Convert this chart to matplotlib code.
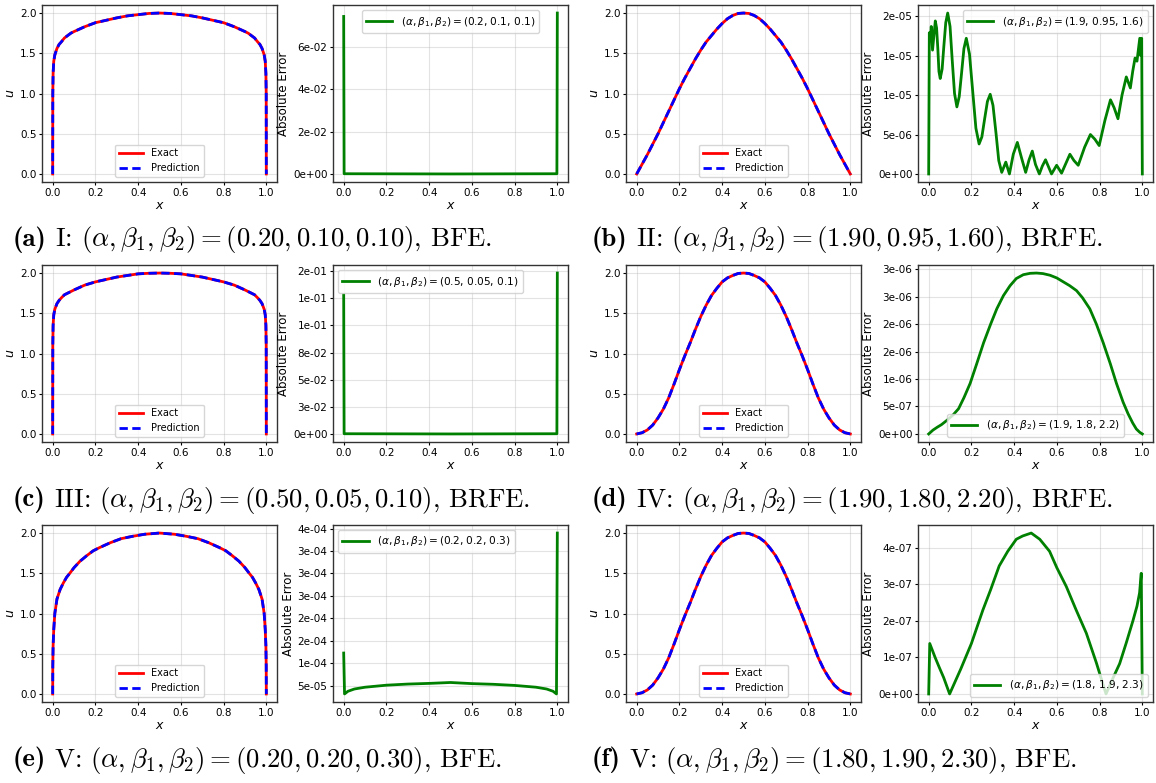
import numpy as np
import matplotlib
matplotlib.use("Agg")
import matplotlib.pyplot as plt

plt.rcParams['mathtext.fontset'] = 'dejavusans'
plt.rcParams['font.size'] = 8

# ---- exact / predicted solution u(x) ----
x_flat = [0, 0.0005, 0.002, 0.005, 0.01, 0.02, 0.03, 0.04, 0.055, 0.07, 0.085, 0.1, 0.125, 0.15,
          0.2, 0.25, 0.3, 0.35, 0.4, 0.45, 0.5,
          0.55, 0.6, 0.65, 0.7, 0.75, 0.8, 0.85, 0.875, 0.9, 0.915, 0.93, 0.945, 0.96, 0.97,
          0.98, 0.99, 0.995, 0.998, 0.9995, 1.0]
u_a = [0, 1.0, 1.25, 1.4, 1.48, 1.56, 1.61, 1.64, 1.69, 1.72, 1.75, 1.77, 1.80, 1.83,
       1.88, 1.91, 1.94, 1.965, 1.98, 1.995, 2.0,
       1.995, 1.98, 1.965, 1.94, 1.91, 1.88, 1.83, 1.80, 1.77, 1.75, 1.72, 1.69, 1.64, 1.61,
       1.56, 1.48, 1.4, 1.25, 1.0, 0]
u_c = [0, 1.1, 1.35, 1.48, 1.55, 1.62, 1.66, 1.69, 1.73, 1.75, 1.77, 1.79, 1.82, 1.85,
       1.89, 1.92, 1.95, 1.97, 1.99, 1.997, 2.0,
       1.997, 1.99, 1.97, 1.95, 1.92, 1.89, 1.85, 1.82, 1.79, 1.77, 1.75, 1.73, 1.69, 1.66,
       1.62, 1.55, 1.48, 1.35, 1.1, 0]
x_e = [0, 0.0005, 0.002, 0.005, 0.01, 0.02, 0.035, 0.05, 0.065, 0.08, 0.1, 0.128, 0.16, 0.19,
       0.22, 0.27, 0.32, 0.375, 0.43, 0.5,
       0.57, 0.625, 0.68, 0.73, 0.78, 0.81, 0.84, 0.872, 0.9, 0.92, 0.935, 0.95, 0.965, 0.98,
       0.99, 0.995, 0.998, 0.9995, 1.0]
u_e = [0, 0.35, 0.6, 0.8, 1.0, 1.18, 1.3, 1.38, 1.45, 1.5, 1.57, 1.65, 1.72, 1.78,
       1.82, 1.88, 1.93, 1.96, 1.985, 2.0,
       1.985, 1.96, 1.93, 1.88, 1.82, 1.78, 1.72, 1.65, 1.57, 1.5, 1.45, 1.38, 1.3, 1.18,
       1.0, 0.8, 0.6, 0.35, 0]
x_bell = [0, 0.025, 0.05, 0.075, 0.1, 0.125, 0.15, 0.175, 0.2, 0.225, 0.25, 0.275, 0.3, 0.325,
          0.35, 0.375, 0.4, 0.425, 0.45, 0.475, 0.5,
          0.525, 0.55, 0.575, 0.6, 0.625, 0.65, 0.675, 0.7, 0.725, 0.75, 0.775, 0.8, 0.825,
          0.85, 0.875, 0.9, 0.925, 0.95, 0.975, 1.0]
u_b = [0, 0.12, 0.24, 0.37, 0.5, 0.64, 0.78, 0.92, 1.06, 1.19, 1.31, 1.43, 1.54, 1.64,
       1.72, 1.80, 1.87, 1.93, 1.97, 1.995, 2.0,
       1.995, 1.97, 1.93, 1.87, 1.80, 1.72, 1.64, 1.54, 1.43, 1.31, 1.19, 1.06, 0.92,
       0.78, 0.64, 0.5, 0.37, 0.24, 0.12, 0]
u_d = [0, 0.015, 0.05, 0.11, 0.2, 0.31, 0.45, 0.62, 0.8, 0.97, 1.13, 1.30, 1.46, 1.60,
       1.72, 1.81, 1.89, 1.94, 1.97, 1.995, 2.0,
       1.995, 1.97, 1.94, 1.89, 1.81, 1.72, 1.60, 1.46, 1.30, 1.13, 0.97, 0.8, 0.62,
       0.45, 0.31, 0.2, 0.11, 0.05, 0.015, 0]
u_f = [0, 0.015, 0.05, 0.11, 0.2, 0.31, 0.45, 0.62, 0.8, 0.97, 1.13, 1.30, 1.46, 1.60,
       1.72, 1.81, 1.89, 1.94, 1.97, 1.995, 2.0,
       1.995, 1.97, 1.94, 1.89, 1.81, 1.72, 1.60, 1.46, 1.30, 1.13, 0.97, 0.8, 0.62,
       0.45, 0.31, 0.2, 0.11, 0.05, 0.015, 0]

# ---- absolute errors ----
xe_a = [0, 0.002, 0.5, 0.998, 1.0]
err_a = [0.0742, 0.0003, 0.0002, 0.0003, 0.0758]

xe_b = [0, 0.003, 0.008, 0.012, 0.018, 0.031, 0.037, 0.043, 0.048, 0.054, 0.063, 0.071, 0.080,
        0.089, 0.10, 0.11, 0.121, 0.132, 0.143, 0.154, 0.165, 0.176, 0.191, 0.206, 0.221,
        0.236, 0.249, 0.262, 0.275, 0.288, 0.301, 0.315, 0.328, 0.342, 0.361, 0.378, 0.396,
        0.415, 0.435, 0.454, 0.47, 0.485, 0.50, 0.518, 0.532, 0.547, 0.575, 0.599, 0.622,
        0.661, 0.68, 0.70, 0.73, 0.757, 0.778, 0.798, 0.825, 0.851, 0.868, 0.886, 0.905,
        0.925, 0.944, 0.955, 0.966, 0.975, 0.988, 0.993, 0.997, 1.0]
err_b = [0, 1.79, 1.70, 1.87, 1.57, 1.94, 1.85, 1.58, 1.30, 1.21, 1.33, 1.62, 1.92,
         2.04, 1.87, 1.45, 1.02, 0.85, 0.98, 1.28, 1.59, 1.72, 1.52, 1.05, 0.58,
         0.38, 0.47, 0.70, 0.92, 1.01, 0.87, 0.52, 0.17, 0.02, 0.15, 0.0, 0.25,
         0.40, 0.20, 0.02, 0.18, 0.29, 0.12, 0.0, 0.10, 0.18, 0.0, 0.11, 0.01,
         0.25, 0.17, 0.11, 0.34, 0.50, 0.44, 0.36, 0.68, 0.94, 0.84, 0.70, 1.00,
         1.23, 1.09, 1.30, 1.47, 1.43, 1.72, 1.50, 1.72, 0]
err_b = [v * 1e-5 for v in err_b]

xe_c = [0, 0.002, 0.5, 0.998, 1.0]
err_c = [0.128, 0.0005, 0.0003, 0.0005, 0.148]

xe_d = [0, 0.02, 0.039, 0.06, 0.086, 0.115, 0.14, 0.165, 0.194, 0.225, 0.257, 0.29, 0.319,
        0.35, 0.381, 0.41, 0.443, 0.475, 0.505, 0.535, 0.568, 0.6, 0.63, 0.66, 0.692, 0.72,
        0.754, 0.785, 0.817, 0.85, 0.879, 0.91, 0.933, 0.955, 0.972, 0.988, 1.0]
err_d = [0, 0.07, 0.12, 0.17, 0.25, 0.35, 0.46, 0.66, 0.92, 1.28, 1.66, 2.0, 2.28,
         2.52, 2.7, 2.83, 2.9, 2.925, 2.93, 2.92, 2.89, 2.84, 2.77, 2.70, 2.61, 2.48,
         2.28, 2.0, 1.66, 1.28, 0.92, 0.58, 0.37, 0.2, 0.09, 0.03, 0]
err_d = [v * 1e-6 for v in err_d]

xe_e = [0, 0.004, 0.02, 0.05, 0.1, 0.2, 0.3, 0.4, 0.5, 0.6, 0.7, 0.8, 0.9, 0.95, 0.98, 0.996, 1.0]
err_e = [12.3, 3.2, 3.8, 4.3, 4.7, 5.15, 5.4, 5.55, 5.75, 5.5, 5.35, 5.1, 4.7, 4.3, 3.8, 3.2, 39.0]
err_e = [v * 1e-5 for v in err_e]

xe_f = [0, 0.005, 0.03, 0.05, 0.07, 0.098, 0.15, 0.2, 0.254, 0.29, 0.33, 0.37, 0.41, 0.44,
        0.48, 0.52, 0.566, 0.6, 0.644, 0.69, 0.738, 0.785, 0.83, 0.86, 0.894, 0.925, 0.956,
        0.975, 0.987, 0.995, 1.0]
err_f = [0, 1.38, 1.0, 0.72, 0.45, 0, 0.68, 1.38, 2.3, 2.85, 3.5, 3.9, 4.23, 4.32,
         4.4, 4.23, 3.9, 3.45, 2.94, 2.3, 1.66, 0.85, 0, 0.4, 0.83, 1.4, 2.0,
         2.4, 2.76, 3.3, 0]
err_f = [v * 1e-7 for v in err_f]

# ---- tick labels of the error panels ----
ticks_a = [0, 0.02, 0.04, 0.06]
labels_a = ['0e+00', '2e-02', '4e-02', '6e-02']
ticks_b = [0, 5e-6, 1e-5, 1.5e-5, 2e-5]
labels_b = ['0e+00', '5e-06', '1e-05', '1e-05', '2e-05']
ticks_c = [0, 0.025, 0.05, 0.075, 0.1, 0.125, 0.15]
labels_c = ['0e+00', '3e-02', '5e-02', '8e-02', '1e-01', '1e-01', '2e-01']
ticks_d = [0, 0.5e-6, 1e-6, 1.5e-6, 2e-6, 2.5e-6, 3e-6]
labels_d = ['0e+00', '5e-07', '1e-06', '2e-06', '2e-06', '3e-06', '3e-06']
ticks_e = [0.5e-4, 1e-4, 1.5e-4, 2e-4, 2.5e-4, 3e-4, 3.5e-4, 4e-4]
labels_e = ['5e-05', '1e-04', '2e-04', '2e-04', '3e-04', '3e-04', '3e-04', '4e-04']
ticks_f = [0, 1e-7, 2e-7, 3e-7, 4e-7]
labels_f = ['0e+00', '1e-07', '2e-07', '3e-07', '4e-07']

params_a = '(0.2, 0.1, 0.1)'
params_b = '(1.9, 0.95, 1.6)'
params_c = '(0.5, 0.05, 0.1)'
params_d = '(1.9, 1.8, 2.2)'
params_e = '(0.2, 0.2, 0.3)'
params_f = '(1.8, 1.9, 2.3)'

cap_tags = ['(a)', '(b)', '(c)', '(d)', '(e)', '(f)']
cap_texts = [
    r'I: $(\alpha, \beta_1, \beta_2) = (0.20, 0.10, 0.10)$, BFE.',
    r'II: $(\alpha, \beta_1, \beta_2) = (1.90, 0.95, 1.60)$, BRFE.',
    r'III: $(\alpha, \beta_1, \beta_2) = (0.50, 0.05, 0.10)$, BRFE.',
    r'IV: $(\alpha, \beta_1, \beta_2) = (1.90, 1.80, 2.20)$, BRFE.',
    r'V: $(\alpha, \beta_1, \beta_2) = (0.20, 0.20, 0.30)$, BFE.',
    r'V: $(\alpha, \beta_1, \beta_2) = (1.80, 1.90, 2.30)$, BFE.',
]

panels = [
    (x_flat, u_a, xe_a, err_a, ticks_a, labels_a, params_a, 'upper center'),
    (x_bell, u_b, xe_b, err_b, ticks_b, labels_b, params_b, 'upper right'),
    (x_flat, u_c, xe_c, err_c, ticks_c, labels_c, params_c, 'upper left'),
    (x_bell, u_d, xe_d, err_d, ticks_d, labels_d, params_d, 'lower center'),
    (x_e, u_e, xe_e, err_e, ticks_e, labels_e, params_e, 'upper left'),
    (x_bell, u_f, xe_f, err_f, ticks_f, labels_f, params_f, 'lower right'),
]

W, H = 1156, 783
fig = plt.figure(figsize=(W / 100, H / 100), dpi=100)
renderer = fig.canvas.get_renderer()

col_left = [42, 333, 626, 918]
col_w = 235
row_top = [5, 265, 525]
row_h = 177
cap_y = [240, 500, 760]
cap_x = [13, 592]


def style(ax):
    ax.grid(True, color='#b0b0b0', alpha=0.35, lw=0.8)
    ax.set_axisbelow(True)
    for s in ax.spines.values():
        s.set_color('#333333')
        s.set_linewidth(1.0)
    ax.tick_params(labelsize=7.5, length=2.5, pad=1.5)
    ax.set_xticks([0, 0.2, 0.4, 0.6, 0.8, 1.0])
    ax.set_xlabel('$x$', fontsize=9, labelpad=1)


for i, (xu, u, xe, err, ticks, labels, params, loc) in enumerate(panels):
    r, c = i // 2, i % 2
    bottom = 1 - (row_top[r] + row_h) / H
    ax_u = fig.add_axes([col_left[2 * c] / W, bottom, col_w / W, row_h / H])
    ax_e = fig.add_axes([col_left[2 * c + 1] / W, bottom, col_w / W, row_h / H])

    ax_u.plot(xu, u, color='red', lw=2, label='Exact')
    ax_u.plot(xu, u, color='blue', lw=2, ls='--', dashes=(3, 1.6), label='Prediction')
    ax_u.set_ylabel('$u$', fontsize=9, labelpad=2)
    ax_u.set_yticks([0, 0.5, 1.0, 1.5, 2.0])
    ax_u.legend(loc='lower center', fontsize=7, handlelength=2.5)
    style(ax_u)

    ax_e.plot(xe, err, color='green', lw=2,
              label=r'$(\alpha, \beta_1, \beta_2) = $' + params)
    ax_e.set_yticks(ticks)
    ax_e.set_yticklabels(labels)
    ax_e.set_ylabel('Absolute Error', fontsize=8.5, labelpad=2)
    ax_e.legend(loc=loc, fontsize=7.6, handlelength=2.5)
    style(ax_e)

    # caption: bold tag + roman text with cm math
    plt.rcParams['mathtext.fontset'] = 'cm'
    ty = 1 - cap_y[r] / H
    tag = fig.text(cap_x[c] / W, ty, cap_tags[i], fontsize=19.3, family='cmb10',
                   ha='left', va='center')
    bb = tag.get_window_extent(renderer)
    fig.text((bb.x1 + 8) / W, ty, cap_texts[i], fontsize=19.3, family='cmr10',
             ha='left', va='center')
    plt.rcParams['mathtext.fontset'] = 'dejavusans'

fig.savefig('out.png', dpi=100)
